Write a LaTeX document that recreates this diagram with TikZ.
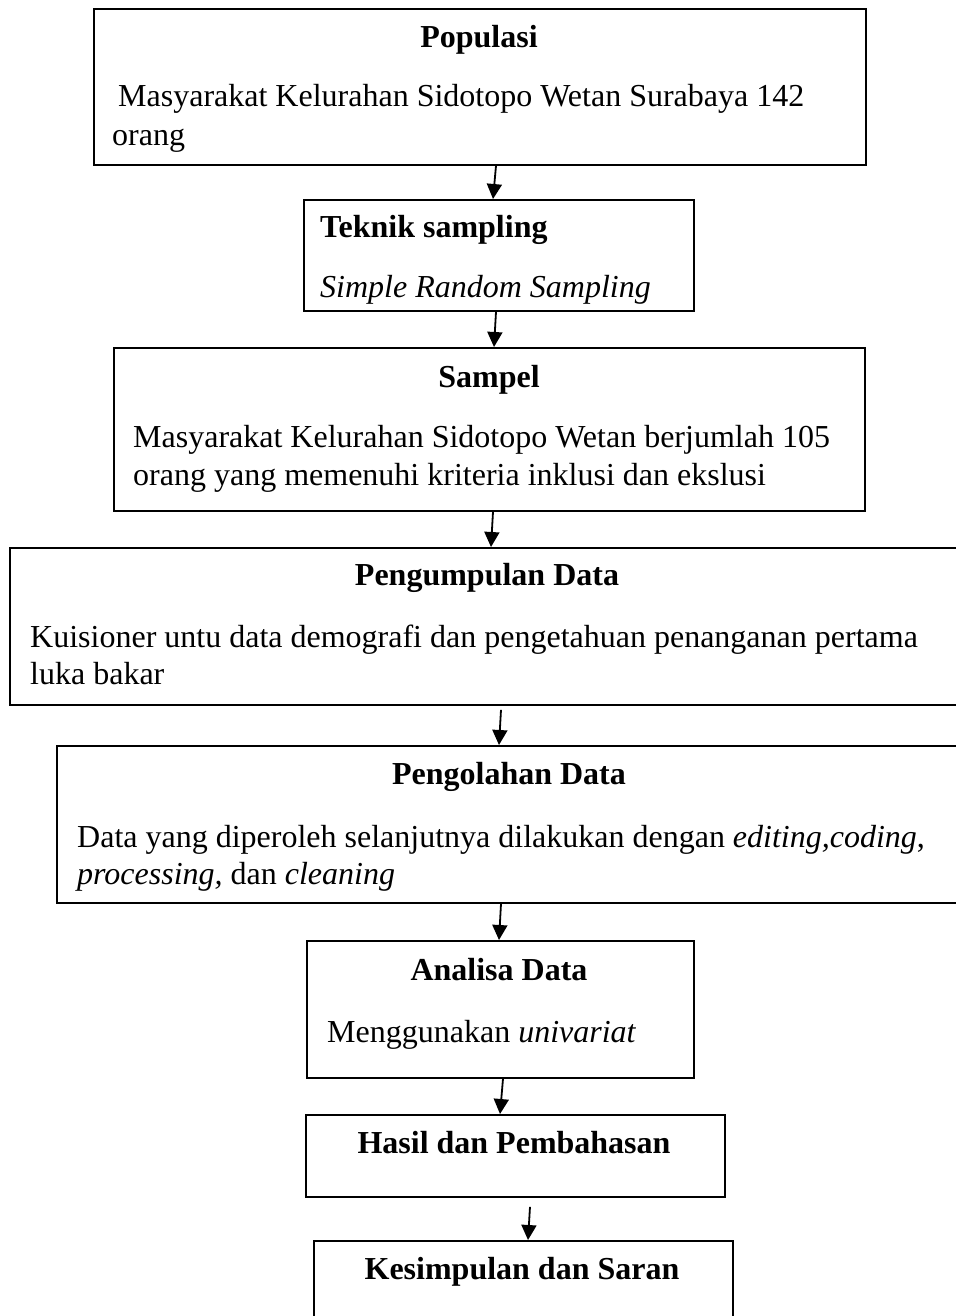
\documentclass[tikz,border=0pt]{standalone}
\usepackage{fontspec}
\setmainfont{Liberation Serif}
\usetikzlibrary{arrows.meta}
\begin{document}
\begin{tikzpicture}[x=1pt,y=-1pt,
  box/.style={draw=black, line width=1.8pt, rectangle, inner sep=0pt, anchor=north west},
  txt/.style={inner sep=0pt, font=\fontsize{32}{37}\selectfont, anchor=base west},
  ttl/.style={inner sep=0pt, font=\fontsize{32}{37}\selectfont\bfseries, anchor=base},
  arr/.style={line width=1.8pt, -{Triangle[length=15pt,width=15pt]}}]
\useasboundingbox (0,0) rectangle (955,1316);
% boxes
\node[box, minimum width=772pt, minimum height=156pt] (pop) at (93,8) {};
\node[box, minimum width=390pt, minimum height=111pt] (tek) at (303,199) {};
\node[box, minimum width=751pt, minimum height=163pt] (sam) at (113,347) {};
\node[box, minimum width=956pt, minimum height=157pt] (peng) at (9,547) {};
\node[box, minimum width=909pt, minimum height=157pt] (olah) at (56,745) {};
\node[box, minimum width=387pt, minimum height=137pt] (ana) at (306,940) {};
\node[box, minimum width=419pt, minimum height=82pt] (has) at (305,1114) {};
\node[box, minimum width=419pt, minimum height=90pt] (kes) at (313,1240) {};
% texts
\node[ttl] (popT) at (479,48) {Populasi};
\node[txt] (popB1) at (118,107) {Masyarakat Kelurahan Sidotopo Wetan Surabaya 142};
\node[txt] (popB2) at (112,146) {orang};
\node[ttl, anchor=base west] (tekT) at (320,237) {Teknik sampling};
\node[txt] (tekB) at (320,297) {\itshape Simple Random Sampling};
\node[ttl] (samT) at (489,387) {Sampel};
\node[txt] (samB1) at (133,447) {Masyarakat Kelurahan Sidotopo Wetan berjumlah 105};
\node[txt] (samB2) at (133,485) {orang yang memenuhi kriteria inklusi dan ekslusi};
\node[ttl] (pengT) at (487,585) {Pengumpulan Data};
\node[txt] (pengB1) at (30,647) {Kuisioner untu data demografi dan pengetahuan penanganan pertama};
\node[txt] (pengB2) at (30,684) {luka bakar};
\node[ttl] (olahT) at (509,784) {Pengolahan Data};
\node[txt] (olahB1) at (77,847) {Data yang diperoleh selanjutnya dilakukan dengan \textit{editing,coding},};
\node[txt] (olahB2) at (77,884) {\textit{processing,} dan \textit{cleaning}};
\node[ttl] (anaT) at (499,980) {Analisa Data};
\node[txt] (anaB) at (327,1042) {Menggunakan \textit{univariat}};
\node[ttl] (hasT) at (514,1153) {Hasil dan Pembahasan};
\node[ttl] (kesT) at (522,1279) {Kesimpulan dan Saran};
% arrows
\draw[arr] (pop.south -| 496,0) -- (tek.north -| 493,0);
\draw[arr] (tek.south -| 496,0) -- (sam.north -| 494,0);
\draw[arr] (sam.south -| 493,0) -- (peng.north -| 491,0);
\draw[arr] ([yshift=-4pt]peng.south -| 501,0) -- (olah.north -| 499,0);
\draw[arr] (olah.south -| 501,0) -- (ana.north -| 499,0);
\draw[arr] (ana.south -| 503,0) -- (has.north -| 500,0);
\draw[arr] ([yshift=-9pt]has.south -| 530,0) -- (kes.north -| 528,0);
\end{tikzpicture}
\end{document}
